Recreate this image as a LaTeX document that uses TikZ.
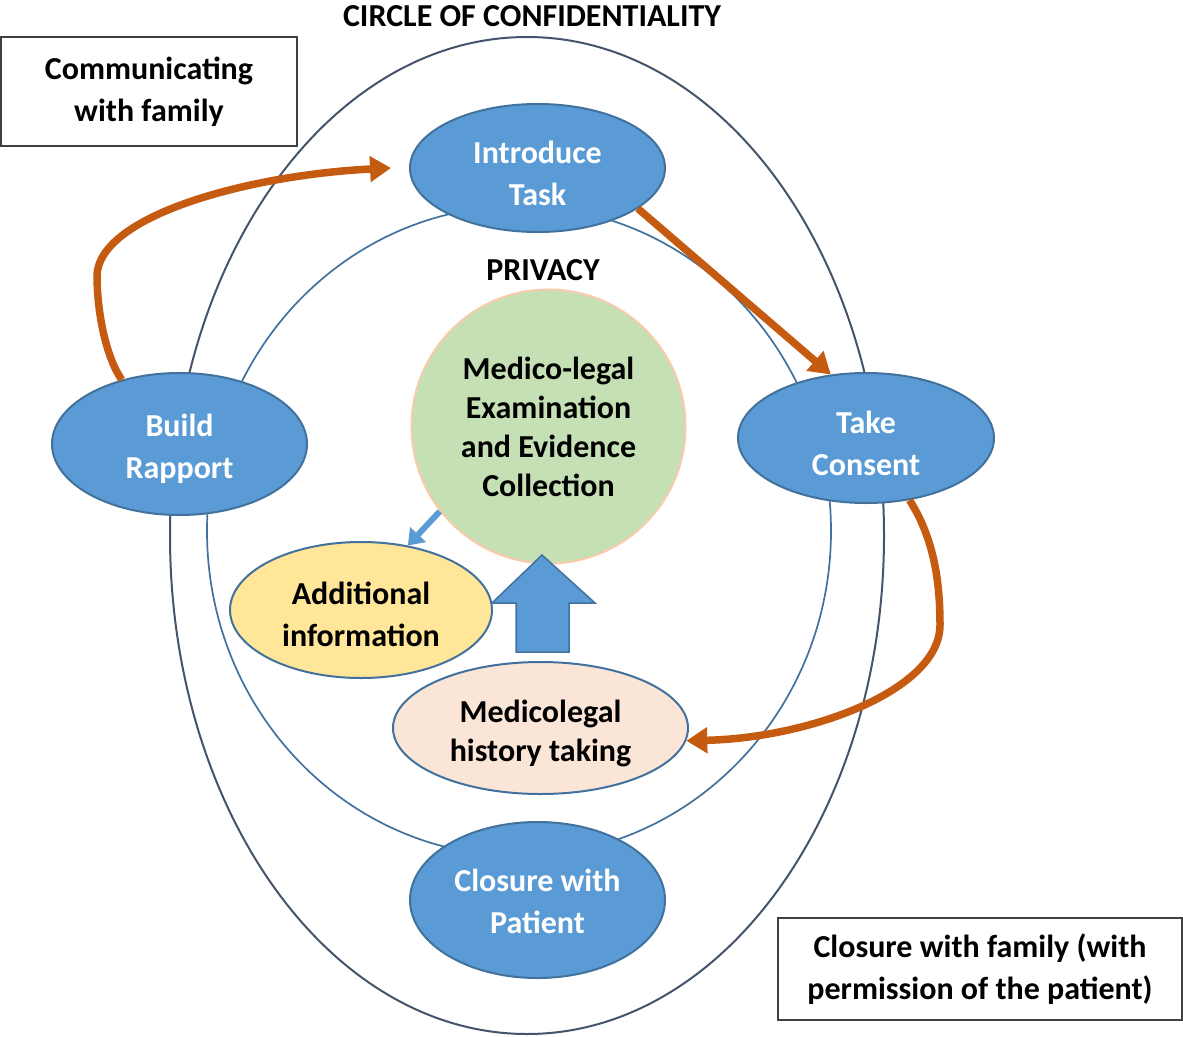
\documentclass[tikz,border=0pt]{standalone}
\usepackage{fontspec}
\setmainfont{Carlito}
\usetikzlibrary{shapes.geometric,arrows.meta}
\definecolor{nodeblue}{HTML}{5B9BD5}
\definecolor{edgeblue}{HTML}{41719C}
\definecolor{outerline}{HTML}{44546A}
\definecolor{orangearrow}{HTML}{C55A11}
\definecolor{greenfill}{HTML}{C5E0B4}
\definecolor{greenedge}{HTML}{F8CBAD}
\definecolor{yellowfill}{HTML}{FFE699}
\definecolor{peachfill}{HTML}{FBE5D6}
\definecolor{boxedge}{HTML}{404040}
\begin{document}
\begin{tikzpicture}[x=1pt,y=-1pt,
  txt/.style={font=\bfseries\fontsize{32}{42}\selectfont, align=center, inner sep=0pt},
  lower/.style={execute at begin node={\rule{0pt}{#1}}},
  ovalnode/.style={txt, ellipse, line width=2pt, draw=edgeblue},
  bluenode/.style={ovalnode, fill=nodeblue, text=white},
  framebox/.style={txt, rectangle, draw=boxedge, line width=1.5pt},
  orangearr/.style={draw=orangearrow, line width=7.5pt, -{Triangle[length=21pt,width=25pt]}},
  bluearr/.style={draw=nodeblue, line width=6pt, -{Triangle[length=15pt,width=21pt]}}
]
\useasboundingbox (0,0) rectangle (1183,1036);
% rings
\draw[outerline, line width=2pt] (527,535.5) ellipse [x radius=357pt, y radius=498.5pt];
\draw[edgeblue, line width=1.7pt] (519,531) ellipse [x radius=312pt, y radius=325pt];
% titles
\node[txt] (title) at (532,16) {CIRCLE OF CONFIDENTIALITY};
\node[txt] (privacy) at (543,270) {PRIVACY};
% boxes
\node[framebox, minimum width=296pt, minimum height=109pt] (family) at (149,91.5) {Communicating\\with family};
\node[framebox, minimum width=404pt, minimum height=102pt] (closefam) at (980,969) {Closure with family (with\\permission of the patient)};
% ring nodes
\node[bluenode, lower=76pt, minimum width=255pt, minimum height=128pt] (intro) at (537.5,168) {Introduce\\Task};
\node[bluenode, lower=75pt, minimum width=255pt, minimum height=142pt] (build) at (179.5,444) {Build\\Rapport};
\node[bluenode, lower=76pt, minimum width=256pt, minimum height=130pt] (take) at (866,438) {Take\\Consent};
\node[bluenode, lower=68pt, minimum width=255pt, minimum height=156pt] (closepat) at (537.5,900) {Closure with\\Patient};
% centre
\node[txt, circle, fill=greenfill, draw=greenedge, line width=2pt, minimum size=274pt, font=\bfseries\fontsize{32}{39}\selectfont] (exam) at (548.5,426.5) {Medico-legal\\Examination\\and Evidence\\Collection};
\node[ovalnode, lower=73pt, fill=yellowfill, minimum width=262pt, minimum height=136pt] (addl) at (361,610) {Additional\\information};
\node[ovalnode, lower=72pt, fill=peachfill, minimum width=295pt, minimum height=132pt, font=\bfseries\fontsize{32}{39}\selectfont] (hist) at (540.5,728) {Medicolegal\\history taking};
% block arrow
\draw[fill=nodeblue, draw=edgeblue, line width=1.5pt] (542,555) -- (595,603) -- (569,603) -- (569,652) -- (516,652) -- (516,603) -- (492,603) -- cycle;
% connectors
\coordinate (a1end) at ([xshift=-18pt]intro.west);
\draw[orangearr] (build.132) .. controls (105,355) and (97,310) .. (97,275) .. controls (100,215) and (250,175) .. (a1end);
\draw[orangearr] (intro.338) -- (take.119);
\draw[orangearr] (take.305) .. controls (935,540) and (940,585) .. (940,625) .. controls (940,690) and (810,738) .. (hist.355);
\draw[bluearr] (exam.218) -- (addl.54);
\end{tikzpicture}
\end{document}
